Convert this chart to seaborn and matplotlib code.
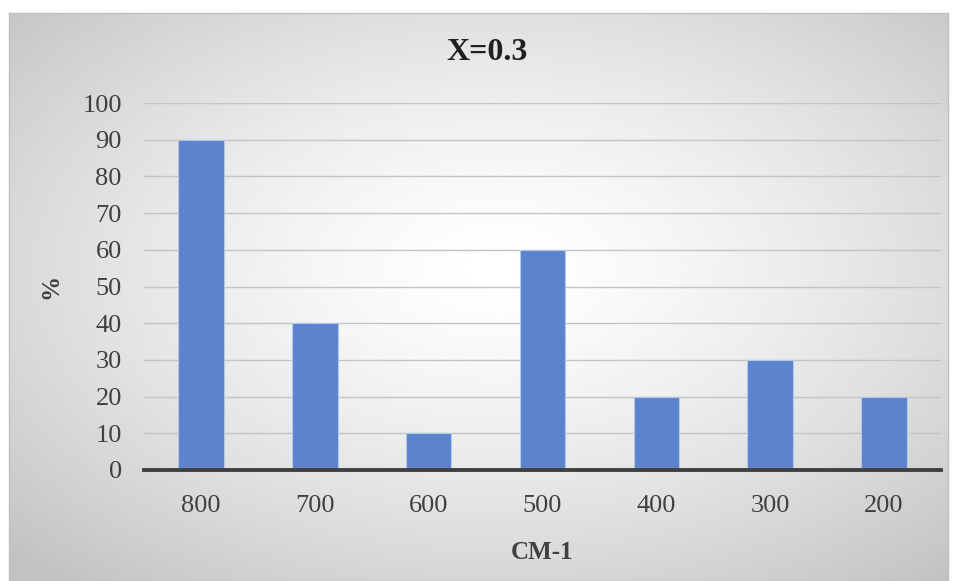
import numpy as np
import pandas as pd
import matplotlib
matplotlib.use('Agg')
import matplotlib.pyplot as plt
import seaborn as sns

# data
categories = ['800', '700', '600', '500', '400', '300', '200']
values = [90, 40, 10, 60, 20, 30, 20]

df = pd.DataFrame({'cm': categories, 'pct': values})

sns.set_style('white')
plt.rcParams['font.family'] = ['Liberation Serif', 'DejaVu Serif']

fig = plt.figure(figsize=(9.58, 5.81), dpi=100)

# chart area background: radial grey gradient like an Excel chart
bg = fig.add_axes([9 / 958, 0, (948 - 9) / 958, (581 - 13) / 581], zorder=-1)
h, w = 300, 500
yy, xx = np.mgrid[0:h, 0:w]
r = np.sqrt(((xx - w * 0.52) / (w / 2)) ** 2 + ((yy - h * 0.45) / (h / 2)) ** 2)
shade = 1 - 0.24 * np.clip(r / 1.45, 0, 1) ** 1.4
bg.imshow(shade, cmap='gray', vmin=0, vmax=1, aspect='auto',
          extent=[0, 1, 0, 1], interpolation='bilinear')
bg.set_xticks([])
bg.set_yticks([])
for s in bg.spines.values():
    s.set_color('#c0c0c0')
    s.set_linewidth(1)

ax = fig.add_axes([144 / 958, 1 - 470 / 581, (941 - 144) / 958, (470 - 103) / 581])
ax.set_facecolor('none')

sns.barplot(data=df, x='cm', y='pct', order=categories, color='#5b84cc',
            width=0.4, edgecolor='#b4c8ec', linewidth=0.8, saturation=1,
            ax=ax, zorder=3)

ax.set_ylim(0, 100)
ax.set_yticks(range(0, 101, 10))
ax.yaxis.grid(True, color='#c4c4c4', linewidth=1, zorder=0)
ax.set_axisbelow(True)
for s in ['top', 'right', 'left']:
    ax.spines[s].set_visible(False)
ax.spines['bottom'].set_color('#404040')
ax.spines['bottom'].set_linewidth(2.8)
ax.spines['bottom'].set_zorder(4)
ax.tick_params(axis='both', length=0, labelsize=19, colors='#404040')
ax.tick_params(axis='y', pad=16)
ax.tick_params(axis='x', pad=18)

ax.set_xlabel('CM-1', fontsize=18, fontweight='bold', color='#404040', labelpad=17)
ax.set_ylabel('%', fontsize=18, fontweight='bold', color='#404040', labelpad=14)
fig.text(487 / 958, 1 - 52 / 581, 'X=0.3', ha='center', va='center',
         fontsize=23, fontweight='bold', color='#202020')

fig.savefig('out.png', dpi=100)
